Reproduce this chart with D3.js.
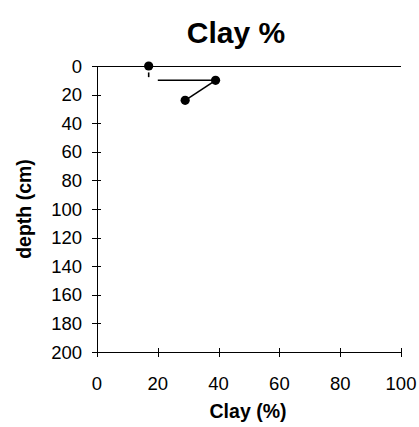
<!DOCTYPE html>
<html>
<head>
<meta charset="utf-8">
<script src="https://cdn.jsdelivr.net/npm/d3@7"></script>
<style>
  body { margin: 0; background: #fff; }
  text { font-family: "Liberation Sans", Arial, sans-serif; fill: #000; }
</style>
</head>
<body>
<div id="chart"></div>
<script>
// clay profile: one value per sampled depth
var depths = [0, 10, 24];
var clay = [17, 39, 29];
// connector pieces as drawn in the original (value units)
var segClay = [[17, 17], [20, 39], [39, 29]];
var segDepth = [[4.5, 7.8], [10, 10], [10, 24]];
var xTicks = [0, 20, 40, 60, 80, 100];
var yTicks = [0, 20, 40, 60, 80, 100, 120, 140, 160, 180, 200];

var W = 419, H = 427;
var m = { left: 97, right: 401, top: 66, bottom: 352 };

var svg = d3.select("#chart").append("svg")
    .attr("width", W)
    .attr("height", H);

var x = d3.scaleLinear().domain([0, 100]).range([m.left, m.right]);
var y = d3.scaleLinear().domain([0, 200]).range([m.top, m.bottom]);

// top line at depth 0
svg.append("line")
    .attr("x1", m.left).attr("x2", m.right)
    .attr("y1", Math.round(y(0)) + 0.5).attr("y2", Math.round(y(0)) + 0.5)
    .attr("stroke", "#000").attr("stroke-width", 1);

// y axis
svg.append("line")
    .attr("x1", m.left + 0.5).attr("x2", m.left + 0.5)
    .attr("y1", m.top).attr("y2", m.bottom)
    .attr("stroke", "#000");
svg.selectAll(".ytick")
    .data(yTicks)
    .join("line")
    .attr("class", "ytick")
    .attr("x1", m.left - 5).attr("x2", m.left + 4)
    .attr("y1", d => Math.round(y(d)) + 0.5)
    .attr("y2", d => Math.round(y(d)) + 0.5)
    .attr("stroke", "#000");
svg.selectAll(".ylab")
    .data(yTicks)
    .join("text")
    .attr("class", "ylab")
    .attr("x", 82)
    .attr("y", d => y(d))
    .attr("dy", "0.36em")
    .attr("text-anchor", "end")
    .attr("font-size", 18.5)
    .text(d => d);

// x axis at bottom
svg.append("line")
    .attr("x1", m.left).attr("x2", m.right)
    .attr("y1", m.bottom + 0.5).attr("y2", m.bottom + 0.5)
    .attr("stroke", "#000");
svg.selectAll(".xtick")
    .data(xTicks)
    .join("line")
    .attr("class", "xtick")
    .attr("x1", d => Math.round(x(d)) + 0.5)
    .attr("x2", d => Math.round(x(d)) + 0.5)
    .attr("y1", m.bottom - 4).attr("y2", m.bottom + 5)
    .attr("stroke", "#000");
svg.selectAll(".xlab")
    .data(xTicks)
    .join("text")
    .attr("class", "xlab")
    .attr("x", d => x(d))
    .attr("y", 390)
    .attr("text-anchor", "middle")
    .attr("font-size", 18.5)
    .text(d => d);

// connectors
svg.selectAll(".seg")
    .data(segClay.map((c, i) => ({ c: c, d: segDepth[i] })))
    .join("line")
    .attr("class", "seg")
    .attr("x1", s => x(s.c[0])).attr("x2", s => x(s.c[1]))
    .attr("y1", s => y(s.d[0])).attr("y2", s => y(s.d[1]))
    .attr("stroke", "#000")
    .attr("stroke-width", 1.6);

// markers
svg.selectAll(".pt")
    .data(depths.map((d, i) => ({ d: d, c: clay[i] })))
    .join("circle")
    .attr("class", "pt")
    .attr("cx", p => x(p.c))
    .attr("cy", p => y(p.d))
    .attr("r", 4.6)
    .attr("fill", "#000");

// titles
svg.append("text")
    .attr("x", 236).attr("y", 43)
    .attr("text-anchor", "middle")
    .attr("font-size", 30)
    .attr("font-weight", "bold")
    .text("Clay %");
svg.append("text")
    .attr("x", 248).attr("y", 418)
    .attr("text-anchor", "middle")
    .attr("font-size", 19.5)
    .attr("font-weight", "bold")
    .text("Clay (%)");
svg.append("text")
    .attr("transform", "translate(31," + ((m.top + m.bottom) / 2) + ") rotate(-90)")
    .attr("text-anchor", "middle")
    .attr("font-size", 19.5)
    .attr("font-weight", "bold")
    .text("depth (cm)");
</script>
</body>
</html>
